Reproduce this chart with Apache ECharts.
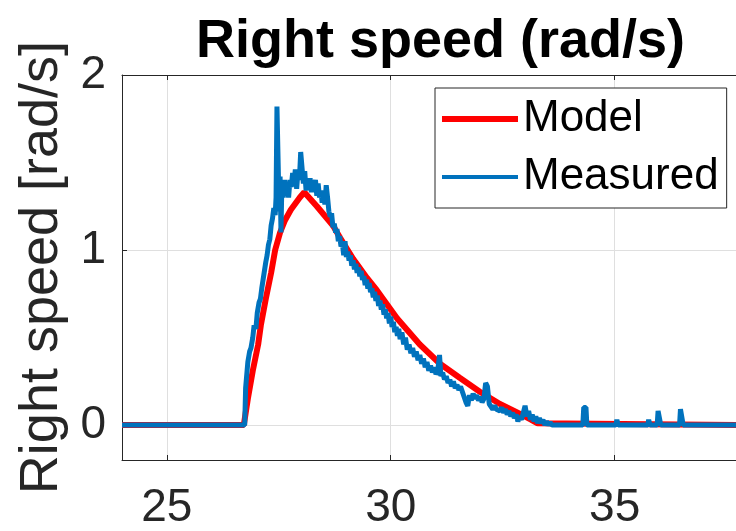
<!DOCTYPE html>
<html><head><meta charset="utf-8">
<script src="https://cdn.jsdelivr.net/npm/echarts@6/dist/echarts.min.js"></script>
<style>html,body{margin:0;padding:0;background:#fff}#c{width:736px;height:531px}</style>
</head><body><div id="c"></div>
<script>
const titleText = 'Right speed (rad/s)';
const yAxisName = 'Right speed [rad/s]';
const seriesNames = ['Model', 'Measured'];
const xTicks = [25, 30, 35];
const yTicks = [0, 1, 2];

const modelTime  = [24.00, 26.72, 26.81, 26.92, 27.04, 27.10, 27.21, 27.33, 27.42, 27.53, 27.64, 27.77, 27.97, 28.07, 28.35, 28.71, 28.87, 29.16, 29.47, 29.69, 30.14, 30.65, 31.10, 31.54, 31.99, 32.44, 32.88, 33.10, 33.28, 33.32, 38.00];
const modelSpeed = [0.00, 0.00, 0.15, 0.31, 0.46, 0.57, 0.72, 0.87, 1.00, 1.10, 1.17, 1.23, 1.30, 1.33, 1.25, 1.14, 1.07, 0.95, 0.84, 0.77, 0.61, 0.46, 0.35, 0.27, 0.19, 0.12, 0.065, 0.035, 0.01, 0.00, 0.00];

const measuredTime = [24.00, 26.74, 26.76, 26.79, 26.81, 26.85, 26.88, 26.92, 26.95, 26.99, 27.02, 27.06, 27.09, 27.12, 27.15, 27.18, 27.21, 27.24, 27.27, 27.30, 27.33, 27.36, 27.39, 27.42, 27.44, 27.46, 27.49, 27.51, 27.53, 27.55, 27.57, 27.60, 27.63, 27.66, 27.69, 27.72, 27.75, 27.78, 27.81, 27.84, 27.87, 27.90, 27.93, 27.96, 27.99, 28.02, 28.05, 28.08, 28.11, 28.14, 28.17, 28.20, 28.23, 28.26, 28.29, 28.32, 28.35, 28.38, 28.41, 28.44, 28.47, 28.50, 28.53, 28.56, 28.59, 28.62, 28.65, 28.68, 28.71, 28.74, 28.77, 28.80, 28.83, 28.86, 28.89, 28.92, 28.95, 28.98, 29.01, 29.04, 29.07, 29.10, 29.13, 29.16, 29.19, 29.22, 29.25, 29.28, 29.31, 29.34, 29.37, 29.40, 29.43, 29.46, 29.49, 29.52, 29.55, 29.58, 29.61, 29.64, 29.67, 29.70, 29.73, 29.76, 29.79, 29.82, 29.85, 29.88, 29.91, 29.94, 29.97, 30.00, 30.03, 30.06, 30.09, 30.12, 30.15, 30.18, 30.21, 30.25, 30.29, 30.33, 30.37, 30.41, 30.45, 30.49, 30.53, 30.57, 30.61, 30.65, 30.69, 30.73, 30.77, 30.81, 30.85, 30.89, 30.93, 30.97, 31.01, 31.05, 31.09, 31.12, 31.16, 31.20, 31.24, 31.28, 31.32, 31.36, 31.40, 31.44, 31.48, 31.52, 31.56, 31.60, 31.64, 31.68, 31.72, 31.76, 31.80, 31.84, 31.88, 31.92, 31.96, 32.00, 32.04, 32.08, 32.12, 32.16, 32.20, 32.24, 32.28, 32.32, 32.36, 32.40, 32.44, 32.48, 32.52, 32.56, 32.60, 32.64, 32.68, 32.72, 32.76, 32.80, 32.84, 32.88, 32.92, 32.96, 33.00, 33.04, 33.08, 33.12, 33.16, 33.20, 33.24, 33.28, 33.32, 33.36, 33.40, 33.44, 33.48, 33.52, 33.56, 33.60, 34.29, 34.31, 34.36, 34.38, 35.03, 35.05, 35.08, 35.74, 35.76, 35.79, 35.95, 35.97, 36.01, 36.03, 36.45, 36.47, 36.51, 36.53, 38.00];
const measuredSpeed = [0.00, 0.00, 0.21, 0.20, 0.36, 0.42, 0.44, 0.50, 0.57, 0.55, 0.64, 0.70, 0.72, 0.78, 0.77, 0.88, 0.93, 0.97, 1.03, 1.06, 1.14, 1.18, 1.24, 1.20, 1.30, 1.82, 1.81, 1.22, 1.42, 1.10, 1.38, 1.30, 1.40, 1.33, 1.37, 1.30, 1.40, 1.36, 1.44, 1.38, 1.46, 1.35, 1.45, 1.40, 1.56, 1.55, 1.38, 1.45, 1.34, 1.40, 1.37, 1.41, 1.33, 1.39, 1.35, 1.40, 1.31, 1.38, 1.30, 1.34, 1.27, 1.33, 1.26, 1.37, 1.30, 1.22, 1.19, 1.21, 1.13, 1.15, 1.10, 1.12, 1.05, 1.08, 1.02, 1.04, 0.97, 1.05, 0.96, 0.99, 0.94, 0.97, 0.91, 0.94, 0.89, 0.92, 0.87, 0.90, 0.85, 0.88, 0.83, 0.85, 0.80, 0.83, 0.78, 0.81, 0.76, 0.78, 0.73, 0.76, 0.71, 0.74, 0.68, 0.71, 0.66, 0.69, 0.63, 0.66, 0.61, 0.64, 0.58, 0.62, 0.56, 0.59, 0.53, 0.56, 0.51, 0.55, 0.49, 0.53, 0.46, 0.50, 0.43, 0.46, 0.41, 0.44, 0.39, 0.42, 0.37, 0.40, 0.35, 0.38, 0.33, 0.36, 0.31, 0.34, 0.30, 0.33, 0.29, 0.31, 0.40, 0.28, 0.30, 0.26, 0.28, 0.24, 0.26, 0.22, 0.25, 0.21, 0.23, 0.20, 0.22, 0.19, 0.20, 0.13, 0.11, 0.17, 0.14, 0.18, 0.15, 0.17, 0.14, 0.16, 0.13, 0.15, 0.24, 0.22, 0.12, 0.13, 0.09, 0.11, 0.09, 0.10, 0.08, 0.10, 0.07, 0.09, 0.06, 0.08, 0.05, 0.07, 0.04, 0.06, 0.02, 0.05, 0.03, 0.07, 0.11, 0.05, 0.08, 0.03, 0.06, 0.02, 0.05, 0.01, 0.04, 0.01, 0.03, 0.00, 0.02, 0.00, 0.015, 0.00, 0.00, 0.10, 0.10, 0.00, 0.00, 0.03, 0.00, 0.00, 0.03, 0.00, 0.00, 0.08, 0.07, 0.00, 0.00, 0.09, 0.085, 0.00, 0.00];

const FONT = '"Liberation Sans", Arial, Helvetica, sans-serif';
const toPairs = (t, v) => t.map((x, i) => [x, v[i]]);

const chart = echarts.init(document.getElementById('c'), null, {renderer: 'canvas'});
const axisLineStyle = {color: '#262626', width: 1};
const X_MIN = 24, X_MAX = 37.71;
chart.setOption({
  animation: false,
  backgroundColor: '#fff',
  title: {
    text: titleText,
    left: 191, top: 10,
    textStyle: {fontFamily: FONT, fontSize: 54, fontWeight: 'bold', color: '#000'}
  },
  legend: {
    data: [
      {name: seriesNames[0], icon: 'path://M0,0 L76,0 L76,6 L0,6 Z'},
      {name: seriesNames[1], icon: 'path://M0,0 L76,0 L76,4 L0,4 Z'}
    ],
    orient: 'vertical', left: 435, top: 88,
    padding: [6, 8, 6, 7], itemGap: 8, itemWidth: 76, itemHeight: 14,
    borderColor: '#262626', borderWidth: 1, backgroundColor: '#fff',
    textStyle: {fontFamily: FONT, fontSize: 44, lineHeight: 50, color: '#000'}
  },
  grid: {left: 122, top: 75, right: 0, bottom: 69, containLabel: false},
  xAxis: [{
    type: 'value', min: X_MIN, max: X_MAX,
    axisLine: {show: true, onZero: false, lineStyle: axisLineStyle},
    axisTick: {show: true, inside: true, length: 5, lineStyle: axisLineStyle, customValues: xTicks},
    axisLabel: {customValues: xTicks, margin: 25, fontFamily: FONT, fontSize: 46, color: '#262626'},
    splitLine: {show: true, lineStyle: {color: '#dfdfdf', width: 1}}
  }, {
    type: 'value', min: X_MIN, max: X_MAX, position: 'top',
    axisLine: {show: true, onZero: false, lineStyle: axisLineStyle},
    axisTick: {show: true, inside: true, length: 5, lineStyle: axisLineStyle, customValues: xTicks},
    axisLabel: {show: false},
    splitLine: {show: false}
  }],
  yAxis: [{
    type: 'value', min: -0.2, max: 2,
    name: yAxisName, nameLocation: 'middle', nameGap: 50, nameRotate: 90,
    nameTextStyle: {fontFamily: FONT, fontSize: 54, color: '#262626'},
    axisLine: {show: true, onZero: false, lineStyle: axisLineStyle},
    axisTick: {show: true, inside: true, length: 5, lineStyle: axisLineStyle, customValues: yTicks},
    axisLabel: {customValues: yTicks, margin: 16, fontFamily: FONT, fontSize: 46, color: '#262626'},
    splitLine: {show: true, lineStyle: {color: '#dfdfdf', width: 1}}
  }],
  series: [{
    name: seriesNames[0], type: 'line', xAxisIndex: 0, yAxisIndex: 0,
    data: toPairs(modelTime, modelSpeed),
    symbol: 'none', showSymbol: false,
    lineStyle: {color: '#FF0000', width: 6}, itemStyle: {color: '#FF0000'}
  }, {
    name: seriesNames[1], type: 'line', xAxisIndex: 0, yAxisIndex: 0,
    data: toPairs(measuredTime, measuredSpeed),
    symbol: 'none', showSymbol: false,
    lineStyle: {color: '#0072BD', width: 5}, itemStyle: {color: '#0072BD'}
  }]
});
</script>
</body></html>
